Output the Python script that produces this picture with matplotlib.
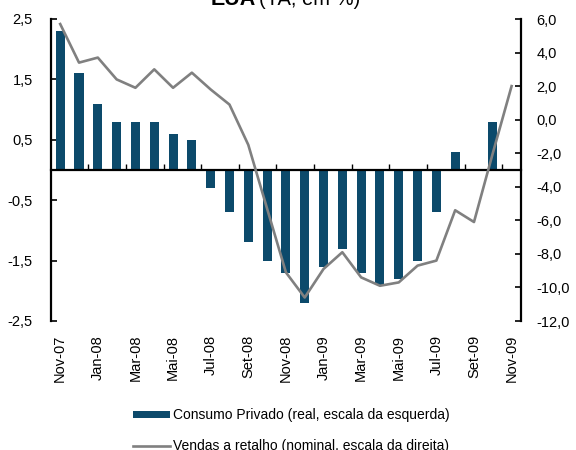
import matplotlib.pyplot as plt
import numpy as np

# Fonte parecida com Arial
plt.rcParams['font.family'] = ['Liberation Sans', 'DejaVu Sans']

# Dados (Nov-07 a Nov-09, mensal)
meses = ['Nov-07', 'Dez-07', 'Jan-08', 'Fev-08', 'Mar-08', 'Abr-08', 'Mai-08', 'Jun-08',
         'Jul-08', 'Ago-08', 'Set-08', 'Out-08', 'Nov-08', 'Dez-08', 'Jan-09', 'Fev-09',
         'Mar-09', 'Abr-09', 'Mai-09', 'Jun-09', 'Jul-09', 'Ago-09', 'Set-09', 'Out-09', 'Nov-09']
consumo = [2.3, 1.6, 1.1, 0.8, 0.8, 0.8, 0.6, 0.5, -0.3, -0.7, -1.2, -1.5, -1.7,
           -2.2, -1.6, -1.3, -1.7, -1.9, -1.8, -1.5, -0.7, 0.3, 0.0, 0.8, np.nan]
vendas = [5.7, 3.4, 3.7, 2.4, 1.9, 3.0, 1.9, 2.8, 1.8, 0.9, -1.5, -5.3, -9.1,
          -10.6, -8.9, -7.9, -9.4, -9.9, -9.7, -8.7, -8.4, -5.4, -6.1, -2.0, 2.0]

cor_barra = '#0c4a6b'
cor_linha = '#808080'


def virgula(v, casas):
    return f"{v:.{casas}f}".replace('.', ',')


fig = plt.figure(figsize=(5.76, 4.5), dpi=100)
fig.subplots_adjust(left=50.8 / 576, right=521 / 576, bottom=1 - 321 / 450, top=1 - 19 / 450)
ax = fig.add_subplot(111)

x = np.arange(len(meses))

# ==== Barras: consumo privado (eixo esquerdo)
barras = ax.bar(x, consumo, width=0.48, color=cor_barra, zorder=2)
ax.set_xlim(-0.5, len(meses) - 0.5)
ax.set_ylim(-2.5, 2.5)
ax.set_yticks(np.arange(-2.5, 2.6, 1.0))
ax.set_yticklabels([virgula(v, 1) for v in np.arange(-2.5, 2.6, 1.0)])
ax.tick_params(axis='y', direction='in', length=4, width=1.2, pad=13, labelsize=10.5)

# Eixo x cruza no zero, marcas entre categorias
ax.spines['top'].set_visible(False)
ax.spines['right'].set_visible(False)
ax.spines['bottom'].set_position(('data', 0))
ax.spines['bottom'].set_linewidth(1.6)
ax.spines['left'].set_linewidth(1.6)
ax.set_xticks(np.arange(1.5, len(meses) - 1, 2))
ax.tick_params(axis='x', direction='in', length=4, width=1.0, labelbottom=False)

# Rotulos do eixo x na base do grafico, de 2 em 2 meses
sec = ax.secondary_xaxis('bottom')
sec.set_xticks(x[::2], labels=meses[::2], rotation=90)
sec.tick_params(length=0, pad=10, labelsize=10.5)
sec.spines['bottom'].set_visible(False)

# ==== Linha: vendas a retalho (eixo direito)
ax2 = ax.twinx()
linha, = ax2.plot(x, vendas, color=cor_linha, lw=1.9, zorder=3)
ax2.set_ylim(-12, 6)
ax2.set_yticks(np.arange(-12, 7, 2))
ax2.set_yticklabels([virgula(v, 1) for v in np.arange(-12, 7, 2)])
ax2.tick_params(axis='y', direction='in', length=4, width=1.2, pad=11, labelsize=10.5)
for s in ['top', 'bottom', 'left']:
    ax2.spines[s].set_visible(False)
ax2.spines['right'].set_linewidth(1.6)

# Titulo (cortado no topo como no original)
fig.text(256 / 576, 1 - 5 / 450, 'EUA', ha='right', va='baseline', fontsize=15.5, fontweight='bold')
fig.text(259 / 576, 1 - 5 / 450, '(YA, em %)', ha='left', va='baseline', fontsize=14.5)

# Legenda
fig.legend([barras, linha],
           ['Consumo Privado (real, escala da esquerda)',
            'Vendas a retalho (nominal, escala da direita)'],
           loc='upper left', bbox_to_anchor=(133 / 576, 1 - 408.5 / 450),
           frameon=False, borderpad=0, borderaxespad=0, handlelength=2.65,
           handletextpad=0.2, labelspacing=1.2, handleheight=0.45, fontsize=10)

fig.savefig('out.png', dpi=100)
